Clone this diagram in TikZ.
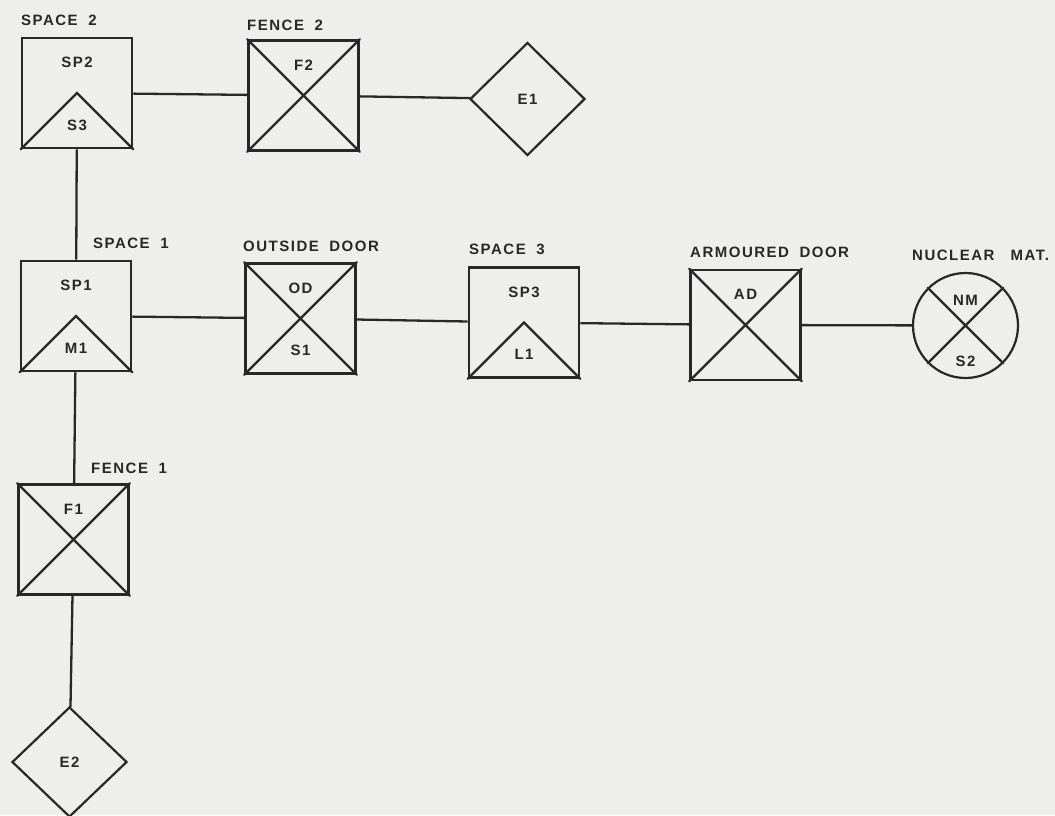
\documentclass[tikz,border=0pt]{standalone}
\usepackage{fontspec}
\setmainfont[LetterSpace=10]{Liberation Sans}
\usetikzlibrary{shapes.geometric}
\definecolor{ink}{RGB}{40,40,40}
\definecolor{paper}{RGB}{238,238,236}
\newcommand{\wsp}{\hspace{0.7em}}
\tikzset{
  element/.style={draw=ink, line width=2.6pt, inner sep=0pt, minimum width=110pt, minimum height=110pt},
  exit/.style={draw=ink, diamond, line width=2.2pt, inner sep=0pt, minimum width=115pt, minimum height=113pt},
  target/.style={draw=ink, circle, line width=2.2pt, inner sep=0pt, minimum size=105pt},
  tag/.style={text=ink, font=\fontsize{15}{15}\selectfont\bfseries, inner sep=0pt},
  link/.style={draw=ink, line width=2.3pt},
  mark line/.style={draw=ink, line width=2.2pt, line cap=round},
}

\begin{document}
\begin{tikzpicture}[x=1pt, y=-1pt]
  \fill[paper] (0,0) rectangle (1055,815);
  \useasboundingbox (0,0) rectangle (1055,815);
  % elements of the path
  \node[element] (sp2) at (77,93)      {};
  \node[element] (f2)  at (303.5,95.5) {};
  \node[exit]    (e1)  at (527.5,99)   {};
  \node[element] (sp1) at (76,316)     {};
  \node[element] (od)  at (300.5,318.5){};
  \node[element] (sp3) at (524,322.5)  {};
  \node[element] (ad)  at (745.5,325)  {};
  \node[target]  (nm)  at (965.5,325.5){};
  \node[element] (f1)  at (73.5,539.5) {};
  \node[exit, minimum height=110pt] (e2) at (69.5,762) {};
  % connections
  \draw[link] (sp2) -- (f2);
  \draw[link] (f2)  -- (e1);
  \draw[link] (sp2) -- (sp1);
  \draw[link] (sp1) -- (od);
  \draw[link] (od)  -- (sp3);
  \draw[link] (sp3) -- (ad);
  \draw[link] (ad)  -- (nm);
  \draw[link] (sp1) -- (f1);
  \draw[link] (f1)  -- (e2);
  % inner marks
  \foreach \n in {sp2,sp1,sp3}{\draw[mark line] (\n.south west) -- (\n.center) -- (\n.south east);}
  \foreach \n in {f2,od,ad,f1}{\draw[mark line] (\n.north west) -- (\n.south east) (\n.north east) -- (\n.south west);}
  \draw[mark line] (nm.45) -- (nm.225) (nm.135) -- (nm.315);
  % inner texts
  \foreach \n/\t in {sp2/SP2, f2/F2, sp1/SP1, od/OD, sp3/SP3, ad/AD, f1/F1}{\node[tag] (\n-top) at ([yshift=-26pt]\n.north) {\t};}
  \foreach \n/\t in {sp2/S3, sp1/M1, od/S1, sp3/L1}{\node[tag] (\n-bot) at ([yshift=24pt]\n.south) {\t};}
  \node[tag] (nm-top) at ([yshift=-28pt]nm.north) {NM};
  \node[tag] (nm-bot) at ([yshift=18pt]nm.south) {S2};
  \node[tag] (e1-txt) at (e1) {E1};
  \node[tag] (e2-txt) at (e2) {E2};
  % names above
  \node[tag, anchor=west] (sp2-name) at (21,20)  {SPACE\wsp 2};
  \node[tag, anchor=west] (f2-name)  at (247,25) {FENCE\wsp 2};
  \node[tag, anchor=west] (sp1-name) at (93,243) {SPACE\wsp 1};
  \node[tag, anchor=west] (od-name)  at (243,246) {OUTSIDE\wsp DOOR};
  \node[tag, anchor=west] (sp3-name) at (469,249) {SPACE\wsp 3};
  \node[tag, anchor=west] (ad-name)  at (690,252) {ARMOURED\wsp DOOR};
  \node[tag, anchor=west] (nm-name)  at (912,255) {NUCLEAR\wsp\ MAT.};
  \node[tag, anchor=west] (f1-name)  at (91,468) {FENCE\wsp 1};
\end{tikzpicture}
\end{document}
